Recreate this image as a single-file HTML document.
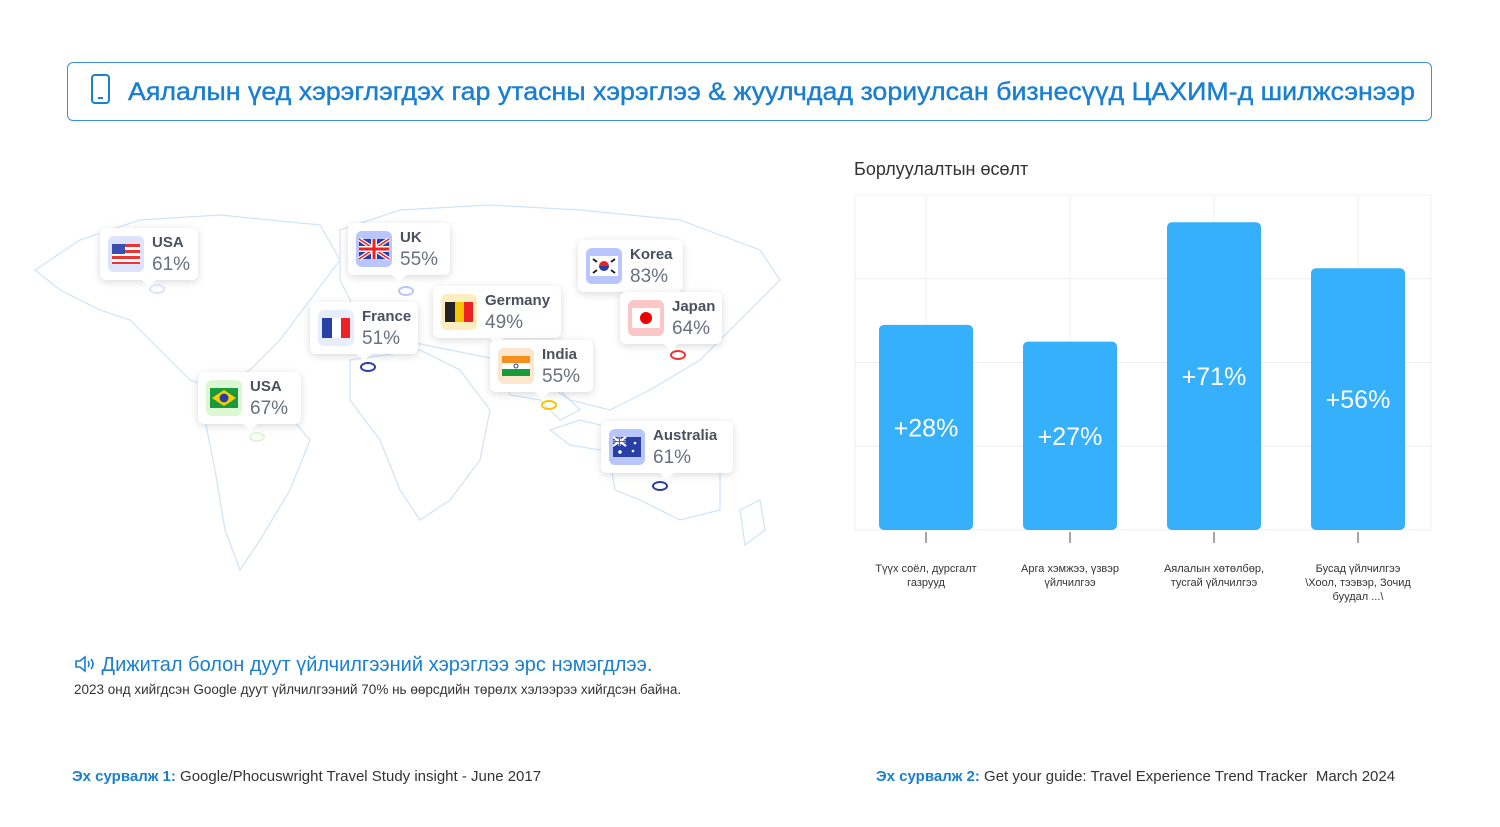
<!DOCTYPE html>
<html><head><meta charset="utf-8">
<style>
body{margin:0;width:1500px;height:827px;background:#fff;font-family:"Liberation Sans",sans-serif;position:relative;overflow:hidden}
.card{position:absolute;background:#fff;border-radius:6px;box-shadow:0 2px 8px rgba(0,0,0,.15);height:52px}
.card .flag{position:absolute;left:8px;top:8px;width:36px;height:36px;border-radius:6px}
.card .nm{position:absolute;left:52px;top:6px;font-size:15px;font-weight:bold;color:#4a5060}
.card .pc{position:absolute;left:52px;top:26px;font-size:19px;color:#6a7080}
.card:after{content:"";position:absolute;left:50%;bottom:-7px;margin-left:-7px;border-left:7px solid transparent;border-right:7px solid transparent;border-top:7px solid #fff}
.pin{position:absolute;width:12px;height:6px;border-radius:50%;border:2px solid}
</style></head><body>
<div style="position:absolute;left:67px;top:62px;width:1363px;height:57px;border:1px solid #3b8fd6;border-radius:6px">
<svg width="1363" height="57" style="position:absolute;left:0;top:0">
<rect x="24" y="12" width="17" height="28" rx="3" fill="none" stroke="#1a7fd0" stroke-width="2"/>
<line x1="30" y1="35" x2="35" y2="35" stroke="#1a7fd0" stroke-width="2"/>
<text x="60" y="37" font-size="25" fill="#1a7fd0" stroke="#1a7fd0" stroke-width="0.4" textLength="1287" lengthAdjust="spacingAndGlyphs" font-family="Liberation Sans, sans-serif">Аялалын үед хэрэглэгдэх гар утасны хэрэглээ &amp; жуулчдад зориулсан бизнесүүд ЦАХИМ-д шилжсэнээр</text>
</svg></div>

<svg width="800" height="400" style="position:absolute;left:20px;top:200px" fill="none" stroke="#cfe4f7" stroke-width="1.2">
<path d="M15 70 L60 40 L120 20 L200 15 L300 25 L320 60 L290 100 L260 140 L230 170 L200 190 L170 180 L140 150 L110 120 L80 110 L40 90 Z"/>
<path d="M200 195 L260 205 L290 240 L270 290 L240 340 L220 370 L205 330 L195 270 L185 220 Z"/>
<path d="M320 30 L380 10 L470 5 L560 10 L660 20 L740 50 L760 80 L720 120 L680 160 L630 190 L590 210 L550 200 L520 180 L480 160 L430 150 L380 140 L340 120 L320 80 Z"/>
<path d="M330 160 L400 150 L440 170 L470 210 L460 260 L430 300 L400 320 L380 290 L360 240 L330 200 Z"/>
<path d="M480 170 L540 190 L560 210 L540 220 L520 200 L490 195 Z"/>
<path d="M590 260 L660 250 L700 270 L700 310 L660 320 L620 300 L595 290 Z"/>
<path d="M530 230 L560 220 L600 230 L620 245 L580 250 L550 245 Z"/>
<path d="M720 310 L740 300 L745 330 L725 345 Z"/>
</svg>

<div class="card" style="left:100px;top:228px;width:98px"><div class="flag" style="background:#dde3fb"><svg width="36" height="36"><g><rect x="4" y="8" width="28" height="20" fill="#fff"/><rect x="4" y="8" width="28" height="3" fill="#e33"/><rect x="4" y="14" width="28" height="3" fill="#e33"/><rect x="4" y="20" width="28" height="3" fill="#e33"/><rect x="4" y="26" width="28" height="2" fill="#e33"/><rect x="4" y="8" width="13" height="10" fill="#3c4fb0"/></g></svg></div><div class="nm">USA</div><div class="pc">61%</div></div>
<div class="pin" style="left:149px;top:284px;border-color:#dde3fb"></div>

<div class="card" style="left:348px;top:223px;width:102px"><div class="flag" style="background:#b9c6fb"><svg width="36" height="36"><rect x="3" y="8" width="30" height="20" fill="#2a3ea8"/><path d="M3 8L33 28M33 8L3 28" stroke="#fff" stroke-width="4"/><path d="M3 8L33 28M33 8L3 28" stroke="#e22" stroke-width="1.5"/><path d="M18 8V28M3 18H33" stroke="#fff" stroke-width="6"/><path d="M18 8V28M3 18H33" stroke="#e22" stroke-width="3"/></svg></div><div class="nm">UK</div><div class="pc">55%</div></div>
<div class="pin" style="left:398px;top:286px;border-color:#b9c6fb"></div>

<div class="card" style="left:578px;top:240px;width:105px"><div class="flag" style="background:#b9c6fb"><svg width="36" height="36"><rect x="4" y="8" width="28" height="20" fill="#fff"/><circle cx="18" cy="18" r="5" fill="#e22"/><path d="M13 18a5 5 0 0 0 10 0z" fill="#2a3ea8"/><path d="M7 11l4 3M25 14l4-3M7 25l4-3M25 22l4 3" stroke="#222" stroke-width="2"/></svg></div><div class="nm">Korea</div><div class="pc">83%</div></div>

<div class="card" style="left:433px;top:286px;width:128px"><div class="flag" style="background:#fdeec0"><svg width="36" height="36"><rect x="4" y="8" width="10" height="20" fill="#222"/><rect x="14" y="8" width="9" height="20" fill="#f7c600"/><rect x="23" y="8" width="9" height="20" fill="#e22"/></svg></div><div class="nm">Germany</div><div class="pc">49%</div></div>

<div class="card" style="left:620px;top:292px;width:102px"><div class="flag" style="background:#fbc6c6"><svg width="36" height="36"><rect x="4" y="8" width="28" height="20" fill="#fff"/><circle cx="18" cy="18" r="6" fill="#e00"/></svg></div><div class="nm">Japan</div><div class="pc">64%</div></div>
<div class="pin" style="left:670px;top:350px;border-color:#e33"></div>

<div class="card" style="left:310px;top:302px;width:108px"><div class="flag" style="background:#e8edfb"><svg width="36" height="36"><rect x="4" y="8" width="10" height="20" fill="#2a3ea8"/><rect x="14" y="8" width="9" height="20" fill="#fff"/><rect x="23" y="8" width="9" height="20" fill="#e22"/></svg></div><div class="nm">France</div><div class="pc">51%</div></div>
<div class="pin" style="left:360px;top:362px;border-color:#2a3ea8"></div>

<div class="card" style="left:490px;top:340px;width:103px"><div class="flag" style="background:#fde6d0"><svg width="36" height="36"><rect x="4" y="8" width="28" height="7" fill="#f5901e"/><rect x="4" y="15" width="28" height="6" fill="#fff"/><rect x="4" y="21" width="28" height="7" fill="#1a9a3a"/><circle cx="18" cy="18" r="2" fill="none" stroke="#2a3ea8"/></svg></div><div class="nm">India</div><div class="pc">55%</div></div>
<div class="pin" style="left:541px;top:400px;border-color:#f7c600"></div>

<div class="card" style="left:198px;top:372px;width:103px"><div class="flag" style="background:#dcf7d4"><svg width="36" height="36"><rect x="4" y="8" width="28" height="20" fill="#1a9a3a"/><path d="M18 10L30 18L18 26L6 18Z" fill="#f7d000"/><circle cx="18" cy="18" r="4.5" fill="#2a3ea8"/></svg></div><div class="nm">USA</div><div class="pc">67%</div></div>
<div class="pin" style="left:249px;top:432px;border-color:#dcf7d4"></div>

<div class="card" style="left:601px;top:421px;width:132px"><div class="flag" style="background:#b9c6fb"><svg width="36" height="36"><rect x="4" y="8" width="28" height="20" fill="#2a3ea8"/><path d="M4 8L17 17M17 8L4 17M10.5 8V17M4 12.5H17" stroke="#fff" stroke-width="2"/><path d="M10.5 8V17M4 12.5H17" stroke="#e22" stroke-width="1"/><circle cx="26" cy="14" r="1.3" fill="#fff"/><circle cx="24" cy="22" r="1.3" fill="#fff"/><circle cx="11" cy="23" r="1.8" fill="#fff"/></svg></div><div class="nm">Australia</div><div class="pc">61%</div></div>
<div class="pin" style="left:652px;top:481px;border-color:#2a3ea8"></div>

<div style="position:absolute;left:854px;top:159px;font-size:18px;color:#333">Борлуулалтын өсөлт</div>
<svg id="chart" width="640" height="460" style="position:absolute;left:840px;top:180px" font-family="Liberation Sans, sans-serif"></svg>

<div style="position:absolute;left:74px;top:654px;font-size:20px;color:#1a7fd0"><svg width="22" height="18" style="vertical-align:-2px" fill="none" stroke="#1a7fd0" stroke-width="1.6"><path d="M2 6h4l5-4v14l-5-4H2z"/><path d="M14 6q2 3 0 6M17 4q4 5 0 10"/></svg> Дижитал болон дуут үйлчилгээний хэрэглээ эрс нэмэгдлээ.</div>
<div style="position:absolute;left:74px;top:682px;font-size:13.5px;color:#333">2023 онд хийгдсэн Google дуут үйлчилгээний 70% нь өөрсдийн төрөлх хэлээрээ хийгдсэн байна.</div>
<div style="position:absolute;left:72px;top:768px;font-size:15px;color:#333"><b style="color:#1a7fd0">Эх сурвалж 1:</b> Google/Phocuswright Travel Study insight - June 2017</div>
<div style="position:absolute;left:876px;top:768px;font-size:15px;color:#333"><b style="color:#1a7fd0">Эх сурвалж 2:</b> Get your guide: Travel Experience Trend Tracker&nbsp; March 2024</div>

<script>
const categories=[["Түүх соёл, дурсгалт","газрууд"],["Арга хэмжээ, үзвэр","үйлчилгээ"],["Аялалын хөтөлбөр,","тусгай үйлчилгээ"],["Бусад үйлчилгээ","\\Хоол, тээвэр, Зочид","буудал ...\\"]];
const barValues=[49,45,73.5,62.5];
const barLabels=["+28%","+27%","+71%","+56%"];
const yTicks=[0,20,40,60,80];
const svg=document.getElementById('chart');const NS='http://www.w3.org/2000/svg';
const L=15,R=591,T=15,B=350,yMax=80;
const y=v=>B-(v/yMax)*(B-T);
const band=(R-L)/categories.length;
const xc=i=>L+band*(i+0.5)-1;
function mk(t,a){const e=document.createElementNS(NS,t);for(const k in a)e.setAttribute(k,a[k]);svg.appendChild(e);return e;}
yTicks.forEach(t=>{const g=mk('line',{x1:L,x2:R,y1:y(t),y2:y(t),stroke:'#efefef'});

});
[L,R].concat(categories.map((c,i)=>xc(i))).forEach(x=>{const g=mk('line',{x1:x,x2:x,y1:T,y2:B,stroke:'#f2f2f2'});

});
barValues.forEach((v,i)=>{const bw=94;
const r=mk('rect',{x:xc(i)-bw/2,y:y(v),width:bw,height:B-y(v),rx:5,fill:'#36b0fb'});


const t=mk('text',{x:xc(i),y:(y(v)+B)/2+9,'text-anchor':'middle','font-size':25,fill:'#fff'});t.textContent=barLabels[i];


const tk=mk('line',{x1:xc(i),x2:xc(i),y1:B+2,y2:B+13,stroke:'#888','stroke-width':1.5});


categories[i].forEach((ln,j)=>{const c=mk('text',{x:xc(i),y:B+42+j*14,'text-anchor':'middle','font-size':11,fill:'#333'});c.textContent=ln;

});
});
</script>
</body></html>
